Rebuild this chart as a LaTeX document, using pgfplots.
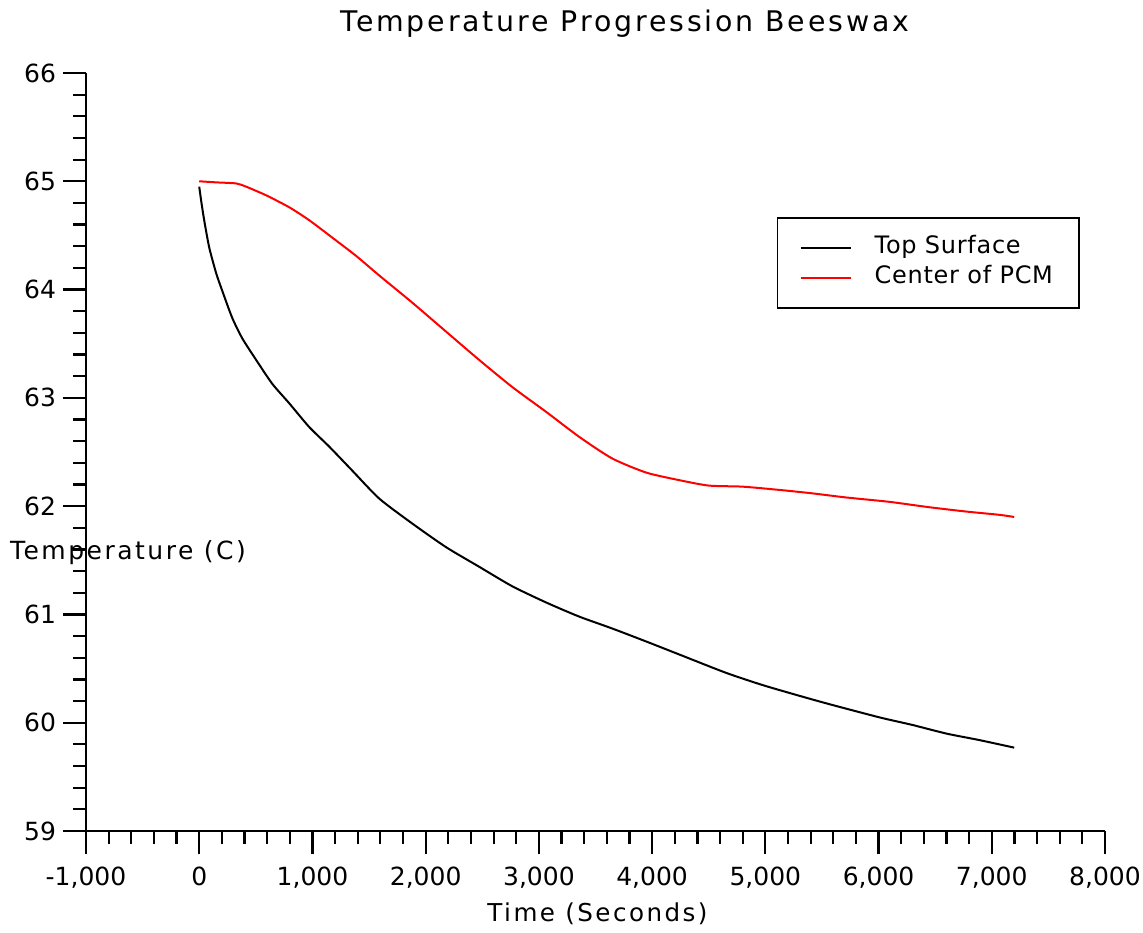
\documentclass[border=0pt]{standalone}
\usepackage{fontspec}
\setmainfont{DejaVu Sans}
\usepackage{pgfplots}
\pgfplotsset{compat=1.18}

\begin{document}
\begin{tikzpicture}
\begin{axis}[
    scale only axis,
    width=509.5pt, height=379pt,
    xmin=-1000, xmax=8000,
    ymin=59, ymax=66,
    axis lines*=left,
    axis line style={line width=1.1pt},
    tick align=outside,
    every tick/.style={black, line width=1.1pt},
    major tick length=11.5pt,
    minor tick length=6.5pt,
    xtick={-1000,0,...,8000},
    ytick={59,...,66},
    minor tick num=4,
    scaled x ticks=false,
    /pgf/number format/assume math mode=true,
    /pgf/number format/1000 sep={,},
    tick label style={font=\fontsize{12.5}{15}\selectfont},
    xticklabel style={yshift=-3pt},
    title={Temperature Progression Beeswax},
    every axis title/.style={at={(rel axis cs:0.529,1)}, anchor=base, yshift=20.5pt,
        font=\fontsize{14.2}{17}\selectfont\addfontfeature{LetterSpace=10}},
    xlabel={Time (Seconds)},
    xlabel style={at={(rel axis cs:0.502,0)}, anchor=base, yshift=-45pt,
        font=\fontsize{12.3}{14}\selectfont\addfontfeature{LetterSpace=10}},
    ylabel={Temperature (C)},
    every axis y label/.style={at={(rel axis cs:0,0.3668)}, anchor=west, xshift=-41.5pt,
        font=\fontsize{12.5}{15}\selectfont\addfontfeature{LetterSpace=10}},
    legend style={at={(rel axis cs:0.678,0.810)}, anchor=north west,
        draw=black, line width=0.8pt, inner xsep=11pt, inner ysep=7.5pt,
        font=\fontsize{12}{14}\selectfont\addfontfeature{LetterSpace=3},
        nodes={inner sep=2pt, text height=8.5pt, text depth=2.5pt},
        cells={anchor=west}},
    legend image code/.code={\draw[#1, line width=1pt] (0pt,0pt) -- (25pt,0pt);
        \path[draw=none] (0pt,0pt) -- (35pt,0pt);},
]
\addplot[black, line width=1pt, smooth, tension=0.4] coordinates {
    (0,64.95) (20,64.80) (44,64.64) (88,64.39) (150,64.15) (203,63.99)
    (291,63.74) (380,63.55) (503,63.35) (645,63.13) (795,62.95) (972,62.73)
    (1148,62.55) (1350,62.33) (1590,62.07) (1881,61.84) (2182,61.62)
    (2473,61.44) (2765,61.26) (3065,61.11) (3356,60.98) (3648,60.87)
    (3948,60.75) (4240,60.63) (4655,60.46) (5000,60.34) (5500,60.19)
    (6006,60.05) (6297,59.98) (6598,59.90) (6889,59.84) (7198,59.77)
};
\addlegendentry{Top Surface}
\addplot[red, line width=1pt, smooth, tension=0.4] coordinates {
    (0,65.00) (150,64.99) (327,64.98) (415,64.95) (592,64.87) (795,64.76)
    (972,64.64) (1175,64.48) (1387,64.31) (1590,64.13) (1881,63.88)
    (2182,63.61) (2473,63.35) (2765,63.10) (3065,62.87) (3356,62.64)
    (3648,62.44) (3948,62.31) (4240,62.24) (4500,62.19) (4800,62.18)
    (5123,62.15) (5400,62.12) (5715,62.08) (6094,62.04) (6448,61.99)
    (6775,61.95) (7066,61.92) (7198,61.90)
};
\addlegendentry{Center of PCM}
\coordinate (sw) at (rel axis cs:0,0);
\coordinate (ne) at (rel axis cs:1,1);
\end{axis}
\pgfresetboundingbox
\path ([xshift=-43pt,yshift=-50.5pt]sw) rectangle ([xshift=19pt,yshift=36.5pt]ne);
\end{tikzpicture}
\end{document}
